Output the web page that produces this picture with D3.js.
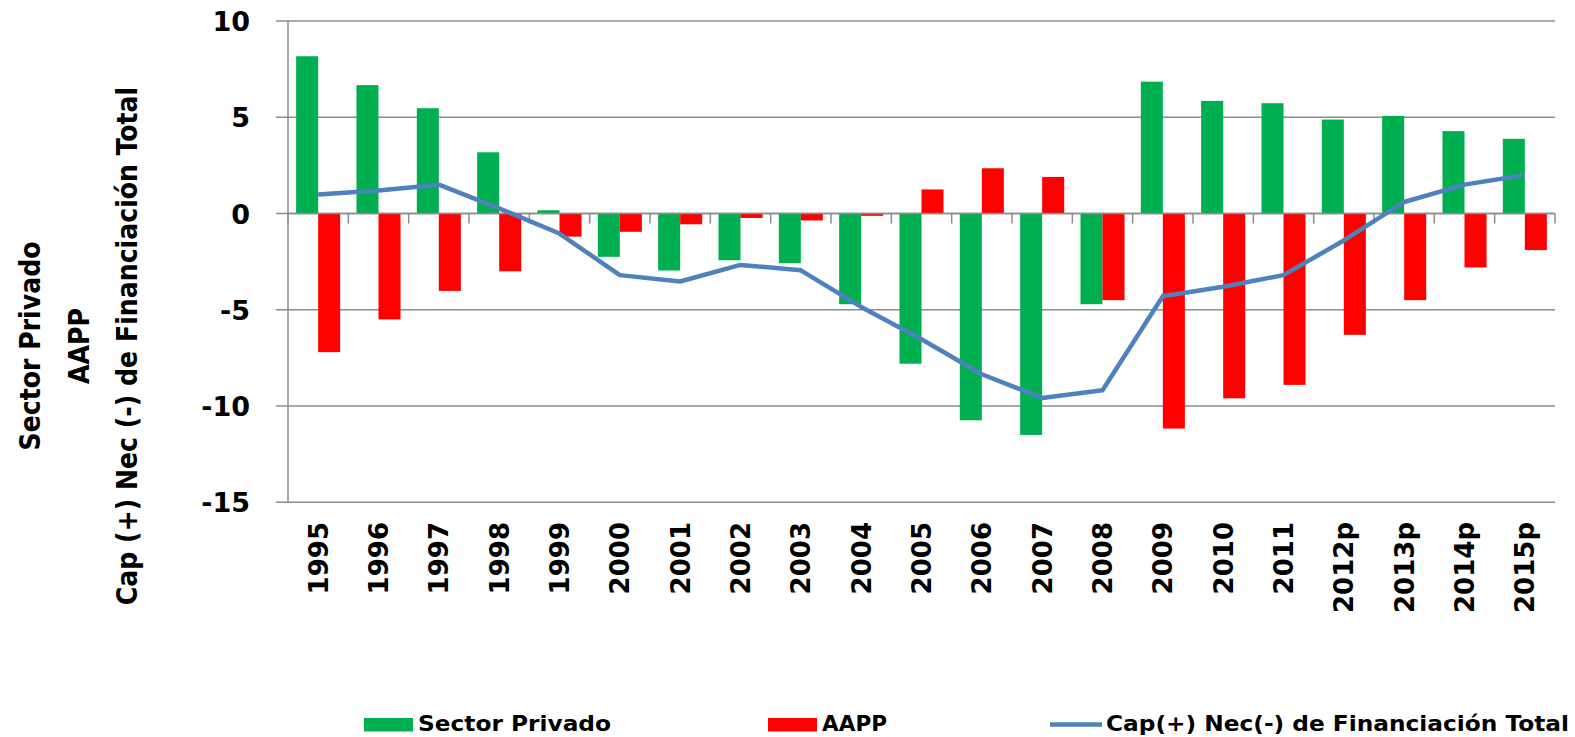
<!DOCTYPE html>
<html>
<head>
<meta charset="utf-8">
<script src="https://cdn.jsdelivr.net/npm/d3@7"></script>
<style>
  body { margin: 0; background: #fff; }
  svg { display: block; }
  text { font-family: "DejaVu Sans", Verdana, sans-serif; font-weight: bold; fill: #000; }
</style>
</head>
<body>
<div id="chart"></div>
<script>
// data
const years = ["1995", "1996", "1997", "1998", "1999", "2000", "2001", "2002", "2003", "2004", "2005",
  "2006", "2007", "2008", "2009", "2010", "2011", "2012p", "2013p", "2014p", "2015p"];
const sectorPrivado = [8.17, 6.67, 5.47, 3.18, 0.17, -2.25, -2.96, -2.43, -2.58, -4.71, -7.8,
  -10.74, -11.5, -4.71, 6.85, 5.85, 5.73, 4.88, 5.07, 4.28, 3.88];
const aapp = [-7.2, -5.5, -4.02, -3.0, -1.2, -0.95, -0.56, -0.23, -0.36, -0.12, 1.25,
  2.35, 1.9, -4.5, -11.17, -9.6, -8.9, -6.3, -4.5, -2.8, -1.9];
const total = [0.99, 1.2, 1.5, 0.27, -1.04, -3.2, -3.53, -2.67, -2.95, -4.85, -6.53,
  -8.35, -9.58, -9.18, -4.3, -3.8, -3.2, -1.4, 0.6, 1.5, 2.0];
const yTicks = [-15, -10, -5, 0, 5, 10];
const seriesNames = ["Sector Privado", "AAPP", "Cap(+) Nec(-) de Financiación Total"];
const titleLines = ["Sector Privado", "AAPP", "Cap (+) Nec (-) de Financiación Total"];

const GREEN = "#00b050", RED = "#ff0000", BLUE = "#4f81bd", GRID = "#8c8c8c";

var width = 1575, height = 737;
var svg = d3.select("#chart").append("svg")
  .attr("width", width)
  .attr("height", height);

const x = d3.scaleBand()
  .domain(years)
  .range([288, 1555])
  .paddingInner(0.27)
  .paddingOuter(0.135);
const xSub = d3.scaleBand()
  .domain([0, 1])
  .range([0, x.bandwidth()]);
const y = d3.scaleLinear()
  .domain([-15, 10])
  .range([502.3, 21]);

// gridlines + y tick labels
svg.append("g")
  .selectAll("line")
  .data(yTicks)
  .join("line")
    .attr("x1", 276)
    .attr("x2", 1555)
    .attr("y1", d => y(d))
    .attr("y2", d => y(d))
    .attr("stroke", GRID)
    .attr("stroke-width", 1.5);

svg.append("g")
  .selectAll("text")
  .data(yTicks)
  .join("text")
    .attr("x", 250)
    .attr("y", d => y(d))
    .attr("dy", "0.37em")
    .attr("text-anchor", "end")
    .style("font-size", "27px")
    .text(d => d);

// y axis line
svg.append("line")
  .attr("x1", 288).attr("x2", 288)
  .attr("y1", y(10)).attr("y2", y(-15))
  .attr("stroke", GRID).attr("stroke-width", 1.5);

// bars
const groups = svg.append("g")
  .selectAll("g")
  .data(years)
  .join("g")
    .attr("transform", d => `translate(${x(d)},0)`);

groups.append("rect")
  .attr("x", xSub(0))
  .attr("width", xSub.bandwidth())
  .attr("y", (d, i) => y(Math.max(0, sectorPrivado[i])))
  .attr("height", (d, i) => Math.abs(y(sectorPrivado[i]) - y(0)))
  .attr("fill", GREEN);

groups.append("rect")
  .attr("x", xSub(1))
  .attr("width", xSub.bandwidth())
  .attr("y", (d, i) => y(Math.max(0, aapp[i])))
  .attr("height", (d, i) => Math.abs(y(aapp[i]) - y(0)))
  .attr("fill", RED);

// category axis on the zero line, ticks between categories
const step = x.step();
svg.append("line")
  .attr("x1", 288).attr("x2", 1555)
  .attr("y1", y(0)).attr("y2", y(0))
  .attr("stroke", GRID).attr("stroke-width", 1.5);
svg.append("g")
  .selectAll("line")
  .data(d3.range(years.length + 1))
  .join("line")
    .attr("x1", i => 288 + i * step)
    .attr("x2", i => 288 + i * step)
    .attr("y1", y(0))
    .attr("y2", y(0) + 10)
    .attr("stroke", GRID)
    .attr("stroke-width", 1.5);

// total line
const line = d3.line()
  .x((d, i) => x(years[i]) + x.bandwidth() / 2)
  .y(d => y(d));
svg.append("path")
  .datum(total)
  .attr("d", line)
  .attr("fill", "none")
  .attr("stroke", BLUE)
  .attr("stroke-width", 4.5)
  .attr("stroke-linejoin", "round");

// x labels (rotated)
svg.append("g")
  .selectAll("text")
  .data(years)
  .join("text")
    .attr("transform", d => `translate(${x(d) + x.bandwidth() / 2},522) rotate(-90)`)
    .attr("dy", "0.36em")
    .attr("text-anchor", "end")
    .style("font-size", "26px")
    .text(d => d);

// y title, three lines
const titleX = [40, 89, 137];
svg.append("g")
  .selectAll("text")
  .data(titleLines)
  .join("text")
    .attr("transform", (d, i) => `translate(${titleX[i]},346) rotate(-90)`)
    .attr("text-anchor", "middle")
    .style("font-family", "'DejaVu Sans Condensed', 'DejaVu Sans', sans-serif")
    .style("font-size", "28px")
    .text(d => d);

// legend
const legX = [364, 768, 1050];
const legTextLen = [193, 65, 463];
const leg = svg.append("g")
  .selectAll("g")
  .data(seriesNames)
  .join("g")
    .attr("transform", (d, i) => `translate(${legX[i]},0)`);

leg.filter((d, i) => i < 2).append("rect")
  .attr("y", 718)
  .attr("width", 49)
  .attr("height", 13.5)
  .attr("fill", (d, i) => i === 0 ? GREEN : RED);
leg.filter((d, i) => i === 2).append("line")
  .attr("x1", 0).attr("x2", 52)
  .attr("y1", 724.5).attr("y2", 724.5)
  .attr("stroke", BLUE)
  .attr("stroke-width", 4.5);

leg.append("text")
  .attr("x", (d, i) => i === 2 ? 56 : 54)
  .attr("y", 731.3)
  .attr("textLength", (d, i) => legTextLen[i])
  .attr("lengthAdjust", "spacingAndGlyphs")
  .style("font-size", "22px")
  .text(d => d);
</script>
</body>
</html>
